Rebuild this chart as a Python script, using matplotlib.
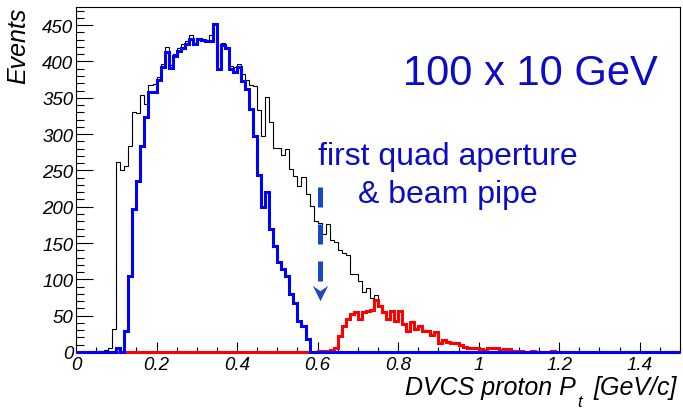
import numpy as np
import matplotlib.pyplot as plt
from matplotlib.path import Path
from matplotlib.ticker import MultipleLocator, FormatStrFormatter

plt.rcParams['font.family'] = ['Liberation Sans', 'DejaVu Sans']

# 150 bins of 0.01 GeV/c from 0 to 1.5
n_bins = 150
bin_width = 0.01

# all events (black), first bin at 0.05
black_start = 0.05
black_counts = [1, 2, 3, 6, 32,
                262, 251, 256, 284, 330, 329, 354, 341, 368, 369,
                378, 396, 420, 395, 410, 419, 424, 428, 436, 426,
                432, 431, 430, 436, 452, 390, 425, 420, 394, 392,
                397, 383, 374, 367, 366, 333, 298, 351, 317, 281,
                281, 271, 280, 252, 242, 229, 241, 218, 201, 180,
                178, 163, 176, 154, 151, 140, 136, 134, 108, 107,
                98, 83, 88, 74, 78, 65, 56, 46, 57, 44,
                58, 40, 30, 42, 33, 37, 30, 30, 24, 28,
                14, 17, 15, 13, 13, 10, 8, 7, 7, 6,
                4, 3, 5, 5, 5, 3, 4, 4, 2, 2,
                2, 0, 0, 2, 0, 0, 0, 0, 2, 0]

# accepted behind the quad (blue), first bin at 0.10
blue_start = 0.10
blue_counts = [5, 0, 29, 105, 197, 236, 284, 323, 358, 358,
               374, 392, 413, 391, 408, 414, 418, 424, 431, 424,
               431, 430, 428, 428, 452, 389, 423, 419, 390, 386,
               392, 373, 362, 335, 297, 244, 199, 220, 169, 146,
               124, 114, 105, 80, 68, 42, 36, 18]

# beyond the aperture (red), first bin at 0.60
red_start = 0.60
red_counts = [2, 2, 1, 3, 6, 22, 36, 45, 52, 55,
              46, 55, 57, 58, 71, 64, 55, 45, 56, 43,
              57, 39, 29, 41, 32, 36, 29, 29, 23, 27,
              13, 16, 14, 12, 12, 9, 7, 6, 6, 6,
              4, 3, 5, 5, 5, 3, 4, 4, 2, 2,
              2, 0, 0, 2, 0, 0, 0, 0, 2, 0]

arrow_x = 0.607
arrow_top = 227
arrow_head = 81


def full(start, counts):
    h = np.zeros(n_bins)
    i = int(round(start / bin_width))
    h[i:i + len(counts)] = counts
    return h


edges = np.linspace(0, n_bins * bin_width, n_bins + 1)

fig = plt.figure(figsize=(6.83, 4.10), dpi=100)
ax = fig.add_axes([76/683, 57/410, 604/683, 345/410])

ax.stairs(full(black_start, black_counts), edges, color='black', lw=0.8, zorder=3, clip_on=False)
ax.stairs(full(red_start, red_counts), edges, color='#ff0000', lw=2.2, zorder=3, clip_on=False)
ax.stairs(full(blue_start, blue_counts), edges, color='#0000ff', lw=2.2, zorder=3, clip_on=False)

ax.set_xlim(0, 1.5)
ax.set_ylim(0, 475)
ax.xaxis.set_major_locator(MultipleLocator(0.2))
ax.xaxis.set_minor_locator(MultipleLocator(0.05))
ax.yaxis.set_major_locator(MultipleLocator(50))
ax.yaxis.set_minor_locator(MultipleLocator(10))
ax.xaxis.set_major_formatter(FormatStrFormatter('%g'))
ax.tick_params(axis='both', which='both', direction='in', top=False, right=False,
               labelsize=13.5, width=0.8)
ax.tick_params(axis='y', which='major', length=12, pad=2)
ax.tick_params(axis='y', which='minor', length=6)
ax.tick_params(axis='x', which='major', length=7, pad=3)
ax.tick_params(axis='x', which='minor', length=3.5)
for lab in ax.get_xticklabels() + ax.get_yticklabels():
    lab.set_style('italic')
for sp in ax.spines.values():
    sp.set_linewidth(0.8)

# arrow
ac = '#1c46c8'
ax.plot([arrow_x, arrow_x], [arrow_top, 93], color=ac, lw=3.6, ls=(0, (4, 3.4)),
        dash_capstyle='butt', zorder=4)
chevron = Path([(0, -1), (-1, 1), (0, 0.3), (1, 1), (0, -1)],
               [Path.MOVETO, Path.LINETO, Path.LINETO, Path.LINETO, Path.CLOSEPOLY])
ax.plot(arrow_x, arrow_head, marker=chevron, ms=11, color=ac, mew=0, zorder=4)

# texts
tc = '#0b0bc8'
fig.text(403/683, 1 - 85/410, '100 x 10 GeV', color=tc, fontsize=30, ha='left', va='baseline')
fig.text(318/683, 1 - 165/410, 'first quad aperture', color=tc, fontsize=23, ha='left', va='baseline')
fig.text(358/683, 1 - 202.7/410, '& beam pipe', color=tc, fontsize=23, ha='left', va='baseline')

fig.text(405/683, 1 - 395/410, 'DVCS proton P', fontsize=18, style='italic', ha='left', va='baseline')
fig.text(577/683, 1 - 407/410, 't', fontsize=12, style='italic', ha='left', va='baseline')
fig.text(677/683, 1 - 395/410, '[GeV/c]', fontsize=18, style='italic', ha='right', va='baseline')
fig.text(18/683, 1 - 8/410, 'Events', fontsize=18, style='italic', rotation=90, ha='center', va='top')

fig.savefig('out.png', dpi=100)
